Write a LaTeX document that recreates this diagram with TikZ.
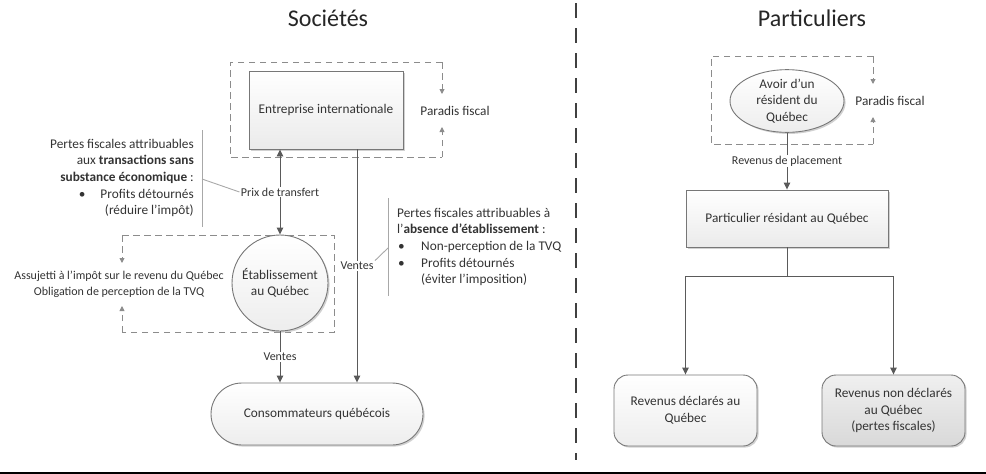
\documentclass[tikz,border=0pt]{standalone}
\usepackage{fontspec}
\setmainfont{Carlito}
\usetikzlibrary{arrows.meta,shapes.geometric,shadows}
\definecolor{txt}{HTML}{333333}
\definecolor{ln}{HTML}{5A5A5A}
\definecolor{dsh}{HTML}{8C8C8C}
\definecolor{brd}{HTML}{777777}
\definecolor{barc}{HTML}{A8A8A8}
\definecolor{divc}{HTML}{404040}
\tikzset{
  every node/.style={font=\fontsize{13.3}{16.6}\selectfont, text=txt},
  smallf/.style={font=\fontsize{12}{16}\selectfont},
  shad/.style={drop shadow={shadow xshift=1.6pt,shadow yshift=-1.6pt,fill=black!30,opacity=.6}},
  boxs/.style={rectangle, draw=brd, line width=0.9pt, top color=white, bottom color=gray!16, shad, align=center},
  circs/.style={circle, draw=brd, line width=0.9pt, top color=white, bottom color=gray!14, shad, align=center, inner sep=0pt},
  ells/.style={ellipse, draw=brd, line width=0.9pt, top color=white, bottom color=gray!14, shad, align=center, inner sep=0pt},
  rbox/.style={rectangle, rounded corners=14pt, draw=brd, line width=0.9pt, top color=white, bottom color=gray!14, shad, align=center},
  rboxd/.style={rectangle, rounded corners=14pt, draw=brd, line width=0.9pt, top color=gray!12, bottom color=gray!30, shad, align=center},
  arr/.style={draw=ln, line width=0.9pt, -{Triangle[length=7pt,width=6.5pt]}},
  plain/.style={draw=ln, line width=0.9pt},
  dbox/.style={draw=dsh, line width=0.9pt, dash pattern=on 6.5pt off 4.5pt},
  darr/.style={dbox, -{Triangle[length=5pt,width=5pt]}},
  lbl/.style={smallf, fill=white, inner sep=1pt},
  barline/.style={draw=barc, line width=0.9pt},
  ttl/.style={font=\fontsize{24}{28}\selectfont, text=black!85}
}
\begin{document}
\begin{tikzpicture}[x=1pt,y=-1pt]
\useasboundingbox (0,0) rectangle (986,474);
% titles
\node[ttl] (t1) at (328,18) {Sociétés};
\node[ttl] (t2) at (812,18) {Particuliers};
% divider and bottom rule
\draw[draw=divc, line width=1.5pt, dash pattern=on 15pt off 10pt] (576,3) -- (576,460);
\fill[black] (0,471.6) rectangle (986,474);

% ===== Sociétés =====
\coordinate (d1a) at (442,62);
\coordinate (d1b) at (442,157);
\coordinate (d1c) at (230,62);
\coordinate (d1d) at (230,157);
\draw[dbox] (d1a) -- (d1c) -- (d1d) -- (d1b);
\node (pf1) at (455,111) {Paradis fiscal};
\coordinate (d1t) at (442,94);
\coordinate (d1u) at (442,127);
\draw[darr] (d1a) -- (d1t);
\draw[darr] (d1b) -- (d1u);
\node[boxs, minimum width=154pt, minimum height=78pt] (ent) at (326,110) {Entreprise internationale};

\coordinate (d2a) at (122,235);
\coordinate (d2b) at (122,332);
\coordinate (d2c) at (334,235);
\coordinate (d2d) at (334,332);
\draw[dbox] (d2a) -- (d2c) -- (d2d) -- (d2b);
\node[smallf, align=center] (assj) at (119,284) {Assujetti à l’impôt sur le revenu du Québec\\Obligation de perception de la TVQ};
\coordinate (d2t) at (122,263);
\coordinate (d2u) at (122,306);
\draw[darr] (d2a) -- (d2t);
\draw[darr] (d2b) -- (d2u);
\node[circs, minimum size=96pt] (est) at (280,283) {Établissement\\au Québec};

\node[rbox, rounded corners=31pt, minimum width=212pt, minimum height=62pt] (cons) at (317,414) {Consommateurs québécois};

\draw[draw=ln, line width=0.9pt, {Triangle[length=7pt,width=6.5pt]}-{Triangle[length=7pt,width=6.5pt]}]
  (ent.south -| est.north) -- node[lbl] (pt) {Prix de transfert} (est.north);
\draw[arr] (ent.south -| 357,0) -- node[lbl] (v1) {Ventes} (cons.north -| 357,0);
\draw[arr] (est.south) -- node[lbl] (v2) {Ventes} (cons.north -| est.south);

% annotation left
\node[anchor=east, align=right, inner sep=0pt] (ann1) at (194,178)
  {Pertes fiscales attribuables\\aux \textbf{transactions sans}\\\textbf{substance économique} :\\\textbullet\hspace{15pt}Profits détournés\\(réduire l’impôt)};
\coordinate (b1a) at (202,130);
\coordinate (b1b) at (202,227);
\coordinate (b1m) at (202,179);
\draw[barline] (b1a) -- (b1b);
\draw[barline] (b1m) -- (pt.west);

% annotation right
\node[anchor=west, align=left, inner sep=0pt] (ann2) at (397,247)
  {Pertes fiscales attribuables à\\l’\textbf{absence d’établissement} :\\\makebox[24pt][l]{\hspace{1pt}\textbullet}Non-perception de la TVQ\\\makebox[24pt][l]{\hspace{1pt}\textbullet}Profits détournés\\\hspace*{24pt}(éviter l’imposition)};
\coordinate (b2a) at (388,198);
\coordinate (b2b) at (388,296);
\coordinate (b2m) at (388,248);
\draw[barline] (b2a) -- (b2b);
\draw[barline] (b2m) -- (v1.north east);

% ===== Particuliers =====
\coordinate (d3a) at (873,56);
\coordinate (d3b) at (873,144);
\coordinate (d3c) at (711,56);
\coordinate (d3d) at (711,144);
\draw[dbox] (d3a) -- (d3c) -- (d3d) -- (d3b);
\node (pf2) at (890,101) {Paradis fiscal};
\coordinate (d3t) at (873,84);
\coordinate (d3u) at (873,117);
\draw[darr] (d3a) -- (d3t);
\draw[darr] (d3b) -- (d3u);
\node[ells, minimum width=114pt, minimum height=62pt] (avoir) at (787,101) {Avoir d’un\\résident du\\Québec};

\node[boxs, minimum width=202pt, minimum height=57pt] (part) at (787,218.5) {Particulier résidant au Québec};
\draw[arr] (avoir.south) -- node[lbl] (rp) {Revenus de placement} (part.north);

\node[rbox, minimum width=143pt, minimum height=71pt] (rd) at (685.5,410.5) {Revenus déclarés au\\Québec};
\node[rboxd, minimum width=143pt, minimum height=71pt] (rnd) at (893.5,410.5) {Revenus non déclarés\\au Québec\\(pertes fiscales)};
\coordinate (split) at (787,276);
\draw[plain] (part.south) -- (split);
\draw[arr] (split) -| (rd.north);
\draw[arr] (split) -| (rnd.north);
\end{tikzpicture}
\end{document}
